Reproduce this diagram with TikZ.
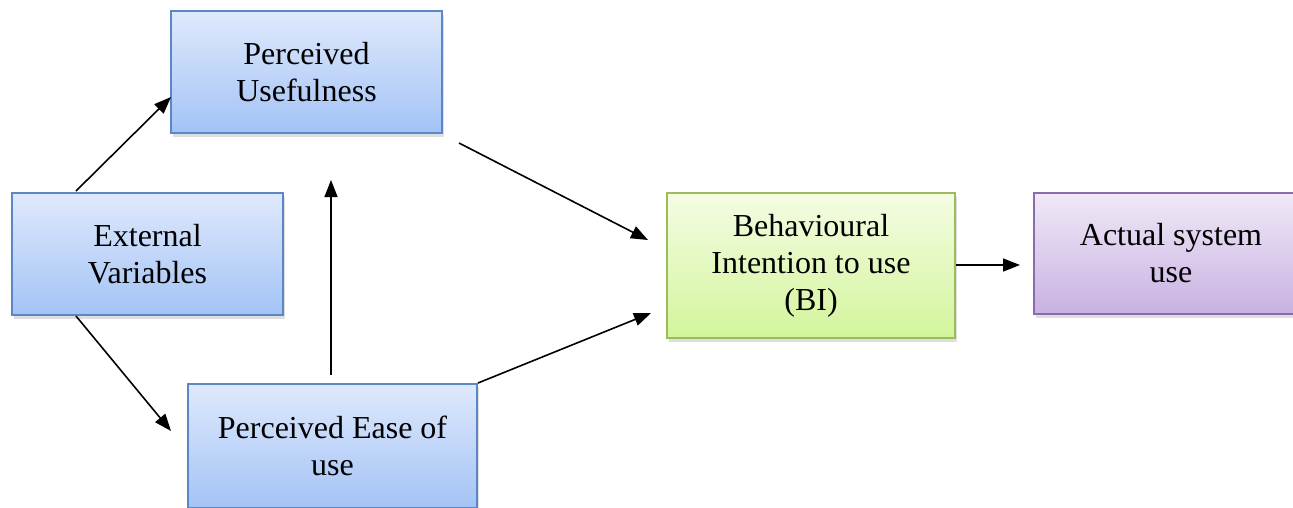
\documentclass[tikz,border=0pt]{standalone}
\usepackage{fontspec}
\setmainfont{Liberation Serif}
\usetikzlibrary{arrows.meta,shadows}
\definecolor{bluetop}{HTML}{DFE9FC}
\definecolor{bluebot}{HTML}{A3C3F6}
\definecolor{blueline}{HTML}{5B87C5}
\definecolor{greentop}{HTML}{F4FCE3}
\definecolor{greenbot}{HTML}{D3F59B}
\definecolor{greenline}{HTML}{9CBB5C}
\definecolor{purptop}{HTML}{F0E9F8}
\definecolor{purpbot}{HTML}{C8B1E1}
\definecolor{purpline}{HTML}{8A6BAE}
\tikzset{
  box/.style={rectangle, draw=blueline, line width=1.2pt, inner sep=0pt,
    top color=bluetop, bottom color=bluebot, align=center,
    font=\fontsize{32}{37}\selectfont,
    drop shadow={opacity=0.25, shadow xshift=2pt, shadow yshift=-4pt}},
  greenbox/.style={box, draw=greenline, top color=greentop, bottom color=greenbot},
  purpbox/.style={box, draw=purpline, top color=purptop, bottom color=purpbot},
  arr/.style={line width=1.6pt, -{Triangle[length=17pt,width=13pt]}}
}
\begin{document}
\begin{tikzpicture}[x=1pt,y=-1pt]
\useasboundingbox (0,0) rectangle (1293,507);
% boxes
\node[box, minimum width=271pt, minimum height=122pt] (pu) at (306.5,72) {Perceived\\Usefulness};
\node[box, minimum width=271pt, minimum height=122pt] (ev) at (147.5,254) {External\\Variables};
\node[box, minimum width=289pt, minimum height=124pt] (peou) at (332.5,446) {Perceived Ease of\\use};
\node[greenbox, minimum width=288pt, minimum height=145pt] (bi) at (811,265.5) {Behavioural\\Intention to use\\(BI)};
\node[purpbox, minimum width=274pt, minimum height=121pt] (asu) at (1171,253.5) {Actual system\\use};
% free ends of the connectors
\coordinate (evtop) at (76,191);
\coordinate (evbot) at (76,316);
\coordinate (putip) at (171,97);
\coordinate (peoutip) at (171,431);
\coordinate (peoutop) at (331,375);
\coordinate (pubot) at (331,180);
\coordinate (puout) at (459,143);
\coordinate (bitop) at (648,240);
\coordinate (peouout) at (478,383);
\coordinate (bibot) at (651,313);
\coordinate (biout) at (956,265);
\coordinate (asuin) at (1020,265);
% connectors
\draw[arr] (evtop) -- (putip);
\draw[arr] (evbot) -- (peoutip);
\draw[arr] (peoutop) -- (pubot);
\draw[arr] (puout) -- (bitop);
\draw[arr] (peouout) -- (bibot);
\draw[arr] (biout) -- (asuin);
\end{tikzpicture}
\end{document}
